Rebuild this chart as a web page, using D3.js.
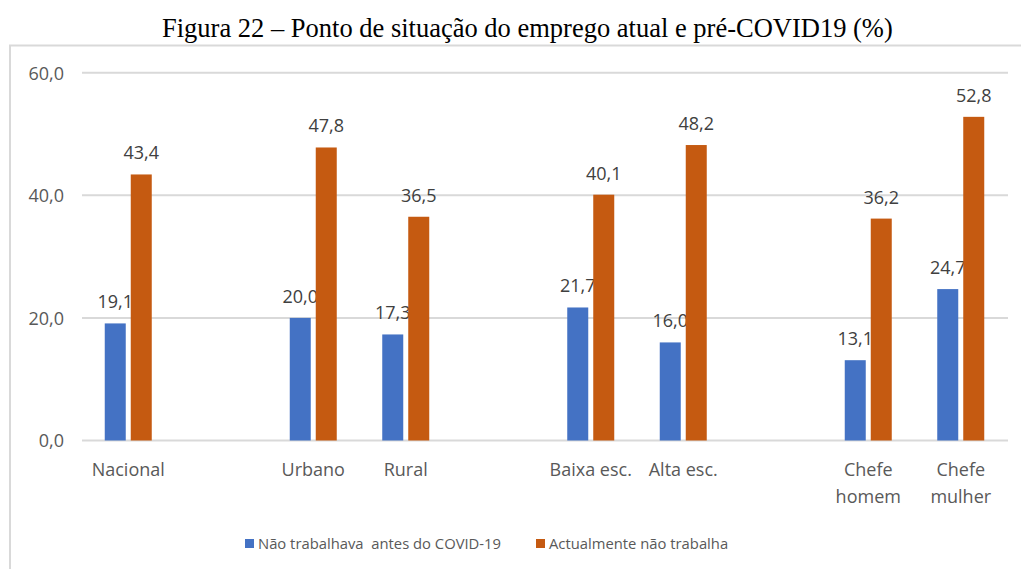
<!DOCTYPE html>
<html>
<head>
<meta charset="utf-8">
<script src="https://cdn.jsdelivr.net/npm/d3@7"></script>
<style>
  body { margin: 0; background: #fff; }
  svg text { font-family: "Open Sans", sans-serif; }
</style>
</head>
<body>
<script>
// Data
var categories = ["Nacional", "", "Urbano", "Rural", " ", "Baixa esc.", "Alta esc.", "  ", "Chefe homem", "Chefe mulher"];
var categoryLines = [["Nacional"], [], ["Urbano"], ["Rural"], [], ["Baixa esc."], ["Alta esc."], [], ["Chefe", "homem"], ["Chefe", "mulher"]];
var seriesNames = ["Não trabalhava  antes do COVID-19", "Actualmente não trabalha"];
var beforeCovid = [19.1, null, 20.0, 17.3, null, 21.7, 16.0, null, 13.1, 24.7];
var nowNotWorking = [43.4, null, 47.8, 36.5, null, 40.1, 48.2, null, 36.2, 52.8];
var yTicks = [0, 20, 40, 60];
var colors = ["#4472C4", "#C55A11"];

var svgWidth = 1021;
var svgHeight = 569;

var svg = d3.select("body")
  .append("svg")
  .attr("width", svgWidth)
  .attr("height", svgHeight);

// Title
svg.append("text")
  .attr("x", 527.4)
  .attr("y", 37)
  .attr("text-anchor", "middle")
  .style("font-family", "'Liberation Serif', 'Times New Roman', serif")
  .style("font-size", "26.5px")
  .attr("fill", "#000")
  .text("Figura 22 – Ponto de situação do emprego atual e pré-COVID19 (%)");

// Chart frame (top and left edges visible)
svg.append("path")
  .attr("d", "M10,569 L10,45.5 L1021,45.5")
  .attr("fill", "none")
  .attr("stroke", "#d9d9d9")
  .attr("stroke-width", 2);

// Scales
var xScale = d3.scaleBand()
  .domain(categories)
  .range([82, 1007]);

var yScale = d3.scaleLinear()
  .domain([0, 60])
  .range([440.5, 72.7]);

// Gridlines
svg.append("g")
  .selectAll("line")
  .data(yTicks)
  .enter().append("line")
  .attr("x1", 82)
  .attr("x2", 1008)
  .attr("y1", function (d) { return yScale(d); })
  .attr("y2", function (d) { return yScale(d); })
  .attr("stroke", "#d9d9d9")
  .attr("stroke-width", 2);

// Y axis labels
var leftAxis = d3.axisLeft(yScale)
  .tickValues(yTicks)
  .tickSize(0)
  .tickPadding(0)
  .tickFormat(function (d) { return d3.format(".1f")(d).replace(".", ","); });

var yAxis = svg.append("g")
  .attr("transform", "translate(64,0)")
  .call(leftAxis);
yAxis.select(".domain").remove();
yAxis.selectAll("text")
  .style("font-family", "'Open Sans', sans-serif")
  .style("font-size", "18px")
  .attr("fill", "#595959")
  .attr("dy", "0.36em");

// Bars
var barWidth = 21;
var barGap = 5;
var series = [beforeCovid, nowNotWorking];

series.forEach(function (values, s) {
  var rows = categories.map(function (c, i) { return { cat: c, value: values[i] }; })
    .filter(function (d) { return d.value !== null; });

  var offset = s === 0 ? -(barWidth + barGap / 2) : barGap / 2;

  svg.append("g")
    .selectAll("rect")
    .data(rows)
    .enter().append("rect")
    .attr("x", function (d) { return xScale(d.cat) + xScale.bandwidth() / 2 + offset; })
    .attr("y", function (d) { return yScale(d.value); })
    .attr("width", barWidth)
    .attr("height", function (d) { return yScale(0) - yScale(d.value); })
    .attr("fill", colors[s]);

  svg.append("g")
    .selectAll("text")
    .data(rows)
    .enter().append("text")
    .attr("x", function (d) { return xScale(d.cat) + xScale.bandwidth() / 2 + offset + barWidth / 2; })
    .attr("y", function (d) { return yScale(d.value) - 15; })
    .attr("text-anchor", "middle")
    .style("font-size", "18px")
    .attr("fill", "#404040")
    .text(function (d) { return d3.format(".1f")(d.value).replace(".", ","); });
});

// Category labels
var catLabels = svg.append("g");
categories.forEach(function (c, i) {
  var t = catLabels.append("text")
    .attr("x", xScale(c) + xScale.bandwidth() / 2)
    .attr("y", 476)
    .attr("text-anchor", "middle")
    .style("font-size", "18px")
    .attr("fill", "#595959");
  categoryLines[i].forEach(function (line, j) {
    t.append("tspan")
      .attr("x", xScale(c) + xScale.bandwidth() / 2)
      .attr("dy", j === 0 ? 0 : 27)
      .text(line);
  });
});

// Legend
var legendItems = [
  { name: seriesNames[0], color: colors[0], x: 245 },
  { name: seriesNames[1], color: colors[1], x: 536 }
];
var legend = svg.append("g");
legendItems.forEach(function (item) {
  legend.append("rect")
    .attr("x", item.x)
    .attr("y", 539)
    .attr("width", 9)
    .attr("height", 9)
    .attr("fill", item.color);
  legend.append("text")
    .attr("x", item.x + 13)
    .attr("y", 549)
    .attr("xml:space", "preserve")
    .style("white-space", "pre")
    .style("font-size", "14.8px")
    .attr("fill", "#595959")
    .text(item.name);
});
</script>
</body>
</html>
